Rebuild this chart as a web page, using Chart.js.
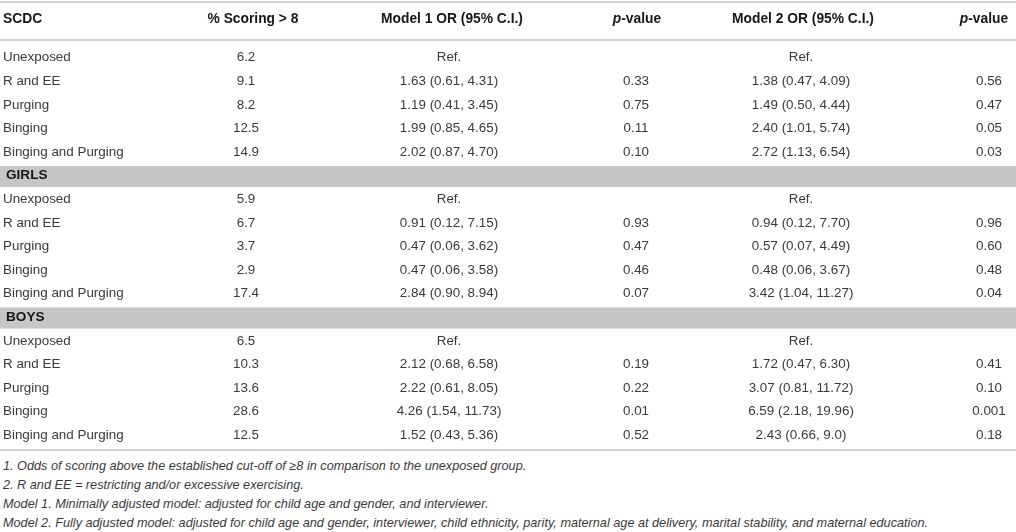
<!DOCTYPE html>
<html><head><meta charset="utf-8">
<script src="https://cdn.jsdelivr.net/npm/chart.js@4/dist/chart.umd.min.js"></script>
<style>
html,body{margin:0;padding:0;background:#fff;}
#wrap{position:relative;width:1016px;height:532px;overflow:hidden;}
#c{position:absolute;left:0;top:0;}
#notes{position:absolute;left:3px;top:457px;font:italic 12.7px "Liberation Sans",Arial,sans-serif;color:#3a3a3a;line-height:19px;white-space:nowrap;}
</style></head><body>
<div id="wrap"><canvas id="c" width="1016" height="452"></canvas><div id="notes"></div></div>
<script>
// ---- data ----
const headers = ['SCDC', '% Scoring > 8', 'Model 1 OR (95% C.I.)', 'p-value', 'Model 2 OR (95% C.I.)', 'p-value'];
const exposures = ['Unexposed', 'R and EE', 'Purging', 'Binging', 'Binging and Purging'];
const groups = ['', 'GIRLS', 'BOYS'];

const pctAll = ['6.2', '9.1', '8.2', '12.5', '14.9'];
const m1All = ['Ref.', '1.63 (0.61, 4.31)', '1.19 (0.41, 3.45)', '1.99 (0.85, 4.65)', '2.02 (0.87, 4.70)'];
const p1All = ['', '0.33', '0.75', '0.11', '0.10'];
const m2All = ['Ref.', '1.38 (0.47, 4.09)', '1.49 (0.50, 4.44)', '2.40 (1.01, 5.74)', '2.72 (1.13, 6.54)'];
const p2All = ['', '0.56', '0.47', '0.05', '0.03'];

const pctGirls = ['5.9', '6.7', '3.7', '2.9', '17.4'];
const m1Girls = ['Ref.', '0.91 (0.12, 7.15)', '0.47 (0.06, 3.62)', '0.47 (0.06, 3.58)', '2.84 (0.90, 8.94)'];
const p1Girls = ['', '0.93', '0.47', '0.46', '0.07'];
const m2Girls = ['Ref.', '0.94 (0.12, 7.70)', '0.57 (0.07, 4.49)', '0.48 (0.06, 3.67)', '3.42 (1.04, 11.27)'];
const p2Girls = ['', '0.96', '0.60', '0.48', '0.04'];

const pctBoys = ['6.5', '10.3', '13.6', '28.6', '12.5'];
const m1Boys = ['Ref.', '2.12 (0.68, 6.58)', '2.22 (0.61, 8.05)', '4.26 (1.54, 11.73)', '1.52 (0.43, 5.36)'];
const p1Boys = ['', '0.19', '0.22', '0.01', '0.52'];
const m2Boys = ['Ref.', '1.72 (0.47, 6.30)', '3.07 (0.81, 11.72)', '6.59 (2.18, 19.96)', '2.43 (0.66, 9.0)'];
const p2Boys = ['', '0.41', '0.10', '0.001', '0.18'];

const notes = [
  '1. Odds of scoring above the established cut-off of \u22658 in comparison to the unexposed group.',
  '2. R and EE = restricting and/or excessive exercising.',
  'Model 1. Minimally adjusted model: adjusted for child age and gender, and interviewer.',
  'Model 2. Fully adjusted model: adjusted for child age and gender, interviewer, child ethnicity, parity, maternal age at delivery, marital stability, and maternal education.'
];

// ---- build rows ----
const blocks = [
  [pctAll, m1All, p1All, m2All, p2All],
  [pctGirls, m1Girls, p1Girls, m2Girls, p2Girls],
  [pctBoys, m1Boys, p1Boys, m2Boys, p2Boys]
];
const rows = [];
groups.forEach((g, gi) => {
  if (g) rows.push({ label: g, band: true, cells: [] });
  exposures.forEach((e, i) => {
    rows.push({ label: e, band: false, cells: blocks[gi].map(col => col[i]) });
  });
});

// ---- layout (column anchors on the x scale) ----
const colX = [3, 246, 449, 636, 801, 989];
const headX = [3, 253, 452, 637, 803, 984];
const FONT = '"Liberation Sans", Arial, sans-serif';

const tablePlugin = {
  id: 'tablePlugin',
  afterDraw(chart) {
    const ctx = chart.ctx;
    const xs = chart.scales.x, ys = chart.scales.y;
    const area = chart.chartArea;
    const rowH = (area.bottom - area.top) / rows.length;
    ctx.save();
    // bands
    rows.forEach((r, i) => {
      if (!r.band) return;
      const y = ys.getPixelForValue(i);
      ctx.fillStyle = '#c6c6c6';
      ctx.fillRect(xs.left, y - rowH / 2 + 2, xs.right - xs.left, rowH - 2.5);
    });
    // rules
    ctx.strokeStyle = '#c4c4c4';
    ctx.lineWidth = 1.5;
    [area.top - 44, area.top - 6, area.bottom + 3].forEach(y => {
      ctx.beginPath(); ctx.moveTo(xs.left, y); ctx.lineTo(xs.right, y); ctx.stroke();
    });
    // header
    ctx.textBaseline = 'middle';
    const hy = area.top - 27;
    const HF = '13.8px ' + FONT;
    headers.forEach((h, c) => {
      const x = xs.getPixelForValue(headX[c]);
      ctx.fillStyle = '#161616';
      if (h.startsWith('p-')) {
        ctx.font = 'italic bold ' + HF;
        const w1 = ctx.measureText('p').width;
        ctx.font = 'bold ' + HF;
        const w2 = ctx.measureText(h.slice(1)).width;
        const x0 = x - (w1 + w2) / 2;
        ctx.textAlign = 'left';
        ctx.font = 'italic bold ' + HF;
        ctx.fillText('p', x0, hy);
        ctx.font = 'bold ' + HF;
        ctx.fillText(h.slice(1), x0 + w1, hy);
      } else {
        ctx.font = 'bold ' + HF;
        ctx.textAlign = c === 0 ? 'left' : 'center';
        ctx.fillText(h, x, hy);
      }
    });
    // body
    rows.forEach((r, i) => {
      const y = ys.getPixelForValue(i);
      ctx.textAlign = 'left';
      if (r.band) {
        ctx.font = 'bold 13.6px ' + FONT;
        ctx.fillStyle = '#161616';
        ctx.fillText(r.label, xs.getPixelForValue(colX[0]) + 3, y);
        return;
      }
      ctx.font = '13.4px ' + FONT;
      ctx.fillStyle = '#3a3a3a';
      ctx.fillText(r.label, xs.getPixelForValue(colX[0]), y);
      ctx.textAlign = 'center';
      r.cells.forEach((v, c) => {
        if (v) ctx.fillText(v, xs.getPixelForValue(colX[c + 1]), y);
      });
    });
    ctx.restore();
  }
};

new Chart(document.getElementById('c'), {
  type: 'scatter',
  data: { datasets: [{ data: [], pointRadius: 0 }] },
  options: {
    responsive: false,
    animation: false,
    events: [],
    layout: { padding: { top: 46, bottom: 5, left: 0, right: 0 } },
    plugins: { legend: { display: false }, tooltip: { enabled: false } },
    scales: {
      x: { type: 'linear', min: 0, max: 1016, display: false },
      y: { type: 'category', labels: rows.map(r => r.label), offset: true, display: false }
    }
  },
  plugins: [tablePlugin]
});

const nd = document.getElementById('notes');
notes.forEach(t => { const d = document.createElement('div'); d.textContent = t; nd.appendChild(d); });
</script>
</body></html>
